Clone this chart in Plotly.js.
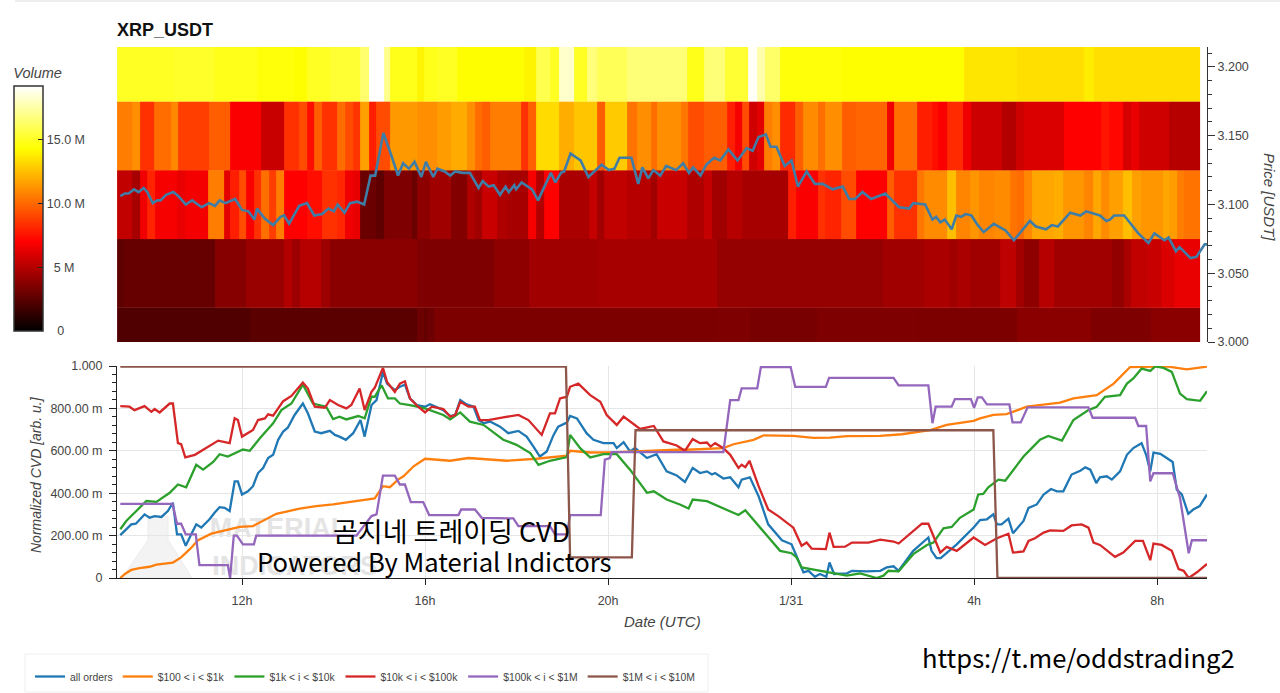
<!DOCTYPE html>
<html><head><meta charset="utf-8">
<script src="https://cdn.plot.ly/plotly-3.0.1.min.js"></script>
<style>html,body{margin:0;padding:0;background:#fff}</style></head>
<body><div id="chart" style="width:1280px;height:693px"></div>
<script>
// Time is in hours since 1/30 00:00 UTC. Volumes are in millions.
const tickHours = [12,16,20,24,28,32];
const tickHourLabels = ['12h','16h','20h','1/31','4h','8h'];
const cvdTicks = [0,0.2,0.4,0.6,0.8,1];
const cvdTickLabels = ['0','200.00 m','400.00 m','600.00 m','800.00 m','1.000'];
const volTicks = [0,5,10,15];
const volTickLabels = ['\u00a0\u00a0\u00a00','\u00a0\u00a05 M','10.0 M','15.0 M'];

const edges3200 = [9.27,10.51,11.38,12.33,13.13,13.42,13.93,14.59,14.77,15.10,15.24,15.83,15.98,16.27,16.70,18.16,18.42,18.74,18.93,19.25,19.55,19.76,20.42,21.73,22.10,22.56,23.07,23.25,23.44,23.76,25.11,27.78,28.95,30.40,30.62,32.93];
const vols3200 = [15,15.1,14.8,14.5,14.3,15,15.3,16.4,19.2,17,14.8,14,14.8,15,14.3,14,15.8,15,18.2,15,16.7,16,16.6,14.8,16.6,15.3,19,17.6,16.3,14.5,14.3,13.6,13.4,13.8,13.4];

const edges3150 = [9.27,9.60,9.77,10.07,10.44,10.60,11.27,11.75,12.42,12.91,13.24,13.42,13.57,13.75,14.08,14.26,14.43,14.59,14.77,14.92,15.24,15.83,16.27,16.56,16.92,17.10,17.25,17.43,18.09,18.26,18.43,18.93,19.25,19.76,19.93,20.42,20.64,20.93,21.08,21.59,21.75,22.10,22.60,22.78,22.93,23.09,23.25,23.42,23.58,23.76,24.09,24.26,24.60,24.75,25.11,25.43,26.10,26.26,26.75,27.08,27.22,27.41,27.77,27.93,28.62,28.92,29.09,29.97,30.77,30.95,31.26,31.42,31.61,32.26,32.93];
const vols3150 = [10.6,11.1,8.4,10.1,10.9,8.8,9.7,6.9,5.5,8.4,9.2,7.4,9.7,8.4,10.1,9.2,8.5,11.6,7.9,9.2,11.4,11.1,11.5,11.9,11.1,10.1,9.7,10.6,8.4,9.8,13.3,12,12.7,9.7,12.8,10.3,11.1,10.2,11.1,10.4,9.2,9.7,7.9,6.8,9.2,5.7,6.2,10.6,11.1,8.2,9.7,11,10.2,11.1,9.7,9.9,6.6,10.2,7.9,7.4,6.9,8.2,6.6,5.6,4.9,5.7,6,7,7.6,7.2,5.9,6.4,5.7,5];

const edges3100 = [9.27,9.60,9.77,9.93,10.09,10.58,10.76,11.25,11.60,11.75,11.93,12.10,12.26,12.42,12.59,12.75,12.91,13.42,13.75,14.08,14.26,14.43,14.59,14.92,15.10,15.72,15.83,16.12,16.56,16.92,17.10,17.25,17.58,17.80,18.26,18.43,18.60,18.93,19.58,19.76,19.91,20.42,20.93,21.08,21.73,22.10,22.28,22.60,22.93,23.93,24.10,24.60,24.75,25.09,25.43,26.10,26.26,26.75,26.91,27.42,27.60,27.92,28.10,28.43,28.79,28.95,29.09,29.27,29.75,29.94,30.40,30.60,30.78,30.95,31.26,31.45,31.64,32.12,32.26,32.44,32.59,32.93];
const vols3100 = [5.3,4.6,6.6,8,6.8,6.4,6.7,10.6,6.2,7.9,9.2,6.9,8.4,10.2,8.8,10.6,7,7.4,8.4,8.1,6.6,6.4,2.9,2.6,3.5,2.9,3.9,4.4,3.6,4.8,4.4,5.5,4.8,4.6,6.8,4.9,7,4.7,5.4,4.4,5.3,5,4.4,5.5,4.8,5.4,4.4,5,4.6,7.9,6.9,8.4,8,9.2,7,9.7,8.4,10.4,11,12.5,10.8,11.3,10.8,11,10.3,10.1,10.9,11.8,12,11.3,10.8,11.8,11,11.6,12.5,11.6,11.3,11.8,11.5,10.6,10.3];

const edges3050 = [9.27,9.42,11.42,12.08,12.91,13.10,13.28,13.73,13.93,15.83,17.51,18.27,19.80,22.39,26.02,26.90,27.48,27.63,27.92,28.57,28.92,29.09,29.42,29.75,31.02,31.28,31.42,31.79,32.08,32.37,32.93];
const vols3050 = [2.6,2.8,3.7,4.2,4.9,4.3,5,4.3,3.8,3.5,3.9,4.4,4.6,4.1,4.4,4.7,4.4,4.7,4.4,5.2,4.4,3.9,5,4.4,4,4.7,5.3,5.5,6,6.4];

const edges3000 = [9.27,12.18,15.83,15.98,16.05,16.20,22.39,23.11,24.57,26.75,28.94,30.55,31.86,32.93];
const vols3000 = [2.2,2.5,3,2.7,3,3.4,3.5,3.3,3.5,3.4,3.8,3.5,3.8];

const priceT = [9.34,9.44,9.52,9.64,9.74,9.85,9.93,10.05,10.15,10.22,10.34,10.50,10.61,10.77,10.91,11.12,11.28,11.41,11.51,11.64,11.85,12.00,12.14,12.27,12.33,12.49,12.68,12.84,12.92,13.03,13.25,13.42,13.58,13.75,13.89,14.01,14.09,14.24,14.36,14.52,14.67,14.81,14.91,15.09,15.26,15.41,15.52,15.65,15.77,15.92,16.02,16.18,16.27,16.43,16.55,16.66,16.82,16.98,17.17,17.26,17.39,17.50,17.64,17.76,17.83,17.95,17.99,18.11,18.34,18.47,18.75,18.85,18.97,19.04,19.18,19.40,19.57,19.86,20.02,20.14,20.25,20.51,20.66,20.75,20.88,20.99,21.14,21.27,21.49,21.64,21.77,21.86,22.02,22.15,22.32,22.45,22.63,22.83,23.03,23.16,23.29,23.45,23.55,23.68,23.86,24.01,24.15,24.34,24.52,24.69,24.91,25.13,25.27,25.40,25.56,25.75,26.06,26.36,26.58,26.67,26.93,27.09,27.17,27.26,27.36,27.51,27.61,27.72,27.81,27.94,28.08,28.21,28.43,28.69,28.87,29.22,29.35,29.57,29.70,29.83,30.10,30.32,30.45,30.75,30.89,30.97,31.06,31.28,31.59,31.81,31.94,32.16,32.25,32.41,32.49,32.73,32.86,33.04,33.09];
const priceV = [3.106,3.108,3.108,3.111,3.109,3.112,3.109,3.101,3.103,3.103,3.107,3.109,3.106,3.100,3.103,3.098,3.101,3.099,3.103,3.101,3.104,3.096,3.095,3.089,3.097,3.090,3.085,3.091,3.092,3.086,3.099,3.101,3.092,3.093,3.097,3.095,3.100,3.094,3.101,3.102,3.100,3.121,3.121,3.152,3.136,3.121,3.130,3.126,3.131,3.120,3.131,3.120,3.126,3.124,3.121,3.124,3.123,3.123,3.112,3.117,3.113,3.114,3.107,3.113,3.109,3.114,3.111,3.116,3.111,3.103,3.123,3.116,3.123,3.124,3.137,3.132,3.120,3.129,3.125,3.126,3.134,3.134,3.115,3.127,3.119,3.125,3.121,3.128,3.125,3.130,3.123,3.127,3.121,3.129,3.134,3.132,3.140,3.132,3.141,3.139,3.149,3.151,3.142,3.142,3.128,3.132,3.113,3.124,3.115,3.115,3.111,3.113,3.104,3.104,3.109,3.104,3.108,3.098,3.097,3.101,3.100,3.089,3.091,3.087,3.089,3.082,3.092,3.091,3.093,3.092,3.085,3.080,3.086,3.081,3.074,3.088,3.084,3.082,3.085,3.084,3.094,3.092,3.095,3.092,3.088,3.089,3.092,3.092,3.079,3.072,3.079,3.074,3.076,3.066,3.069,3.061,3.062,3.071,3.071];

const allT = [9.34,9.44,9.58,9.68,9.76,9.87,9.98,10.09,10.24,10.38,10.49,10.58,10.67,10.77,10.89,11.0,11.11,11.29,11.40,11.51,11.62,11.73,11.84,11.91,12.0,12.13,12.24,12.35,12.46,12.57,12.68,12.79,12.9,13.0,13.15,13.33,13.44,13.59,13.73,13.92,14.03,14.13,14.27,14.43,14.59,14.68,14.83,14.94,15.08,15.17,15.34,15.45,15.56,15.67,15.82,16,16.11,16.26,16.40,16.55,16.66,16.77,16.91,17.06,17.17,17.28,17.42,17.64,17.82,18.04,18.22,18.37,18.51,18.66,18.81,18.91,19.10,19.17,19.32,19.53,19.68,19.90,20.12,20.19,20.34,20.48,20.59,20.85,21.06,21.28,21.50,21.68,21.85,22.01,22.16,22.27,22.34,22.52,22.67,22.85,22.92,23.10,23.29,23.50,23.69,23.80,24.01,24.12,24.27,24.38,24.52,24.63,24.77,24.84,24.94,25.22,25.33,25.65,25.95,26.09,26.24,26.35,26.67,27.0,27.07,27.18,27.27,27.62,27.84,27.99,28.13,28.28,28.42,28.50,28.60,28.75,28.85,29.08,29.19,29.37,29.52,29.68,29.81,29.95,30.13,30.32,30.43,30.54,30.67,30.75,30.90,31.01,31.19,31.34,31.48,31.66,31.76,31.85,31.92,32.07,32.21,32.34,32.43,32.54,32.68,32.79,32.93,33.09];
const allV = [.202,.222,.253,.256,.273,.300,.284,.292,.288,.316,.355,.206,.206,.152,.206,.253,.238,.277,.308,.334,.331,.316,.456,.456,.394,.409,.433,.495,.519,.566,.581,.652,.691,.709,.769,.823,.777,.691,.683,.694,.675,.667,.652,.683,.745,.667,.816,.839,.972,.917,.886,.902,.912,.847,.816,.808,.820,.805,.792,.764,.769,.839,.819,.808,.745,.730,.738,.714,.683,.694,.667,.620,.573,.597,.675,.714,.733,.764,.753,.683,.652,.636,.636,.613,.641,.597,.613,.566,.584,.503,.484,.453,.519,.495,.503,.488,.495,.469,.475,.428,.464,.475,.386,.253,.206,.178,.159,.105,.027,.034,.006,.019,.006,.073,.019,.022,.034,.031,.034,.05,.055,.034,.128,.191,.128,.094,.094,.159,.206,.238,.273,.277,.3,.253,.253,.280,.211,.269,.331,.347,.394,.420,.409,.409,.488,.506,.522,.511,.448,.475,.480,.464,.503,.581,.613,.636,.581,.503,.592,.586,.566,.547,.417,.394,.303,.323,.339,.394];

const t100 = [9.34,9.44,9.58,9.76,9.98,10.13,10.49,10.67,10.86,11.04,11.33,11.58,11.95,12.24,12.53,12.75,13.26,13.62,13.99,14.43,14.90,15.08,15.23,15.41,15.53,15.75,16,16.55,16.95,17.79,18.44,19.10,19.17,19.61,20.19,21.5,21.72,22.52,22.74,23.18,23.40,24.05,24.49,24.85,25.22,25.95,26.42,27.04,27.40,27.99,28.13,28.42,28.71,29.15,29.88,30.17,30.68,31.05,31.41,32.21,32.65,33.09];
const v100 = [0,.019,.038,.047,.053,.063,.073,.097,.136,.178,.209,.222,.241,.245,.277,.303,.327,.339,.347,.359,.375,.433,.428,.464,.480,.527,.5625,.553,.566,.553,.5625,.577,.6,.592,.594,.605,.605,.6125,.631,.652,.673,.67,.661,.6625,.669,.67,.678,.698,.722,.741,.753,.769,.773,.808,.827,.847,.8625,.917,.995,.998,.984,.997];

const t1k = [9.34,9.47,9.69,9.91,10.13,10.42,10.60,10.78,11.0,11.15,11.37,11.51,11.69,12.02,12.17,12.39,12.68,12.86,13.08,13.33,13.55,13.84,13.99,14.13,14.28,14.54,14.68,14.83,14.90,15.05,15.19,15.34,15.45,15.67,16,16.40,16.55,16.77,16.98,17.28,17.71,18.0,18.30,18.48,18.73,19.10,19.17,19.39,19.61,19.90,20.19,20.48,20.85,21.0,21.28,21.57,21.76,21.85,22.16,22.52,22.85,23.0,23.32,23.76,24.01,24.12,24.23,24.63,24.85,25.22,25.51,25.87,26.02,26.13,26.35,26.67,26.97,27.11,27.33,27.51,27.69,27.99,28.09,28.20,28.31,28.42,28.53,28.68,28.86,29.08,29.26,29.44,29.62,29.92,30.17,30.50,30.68,30.86,31.19,31.34,31.48,31.66,31.85,31.96,32.14,32.32,32.50,32.65,32.94,33.09];
const v1k = [.230,.269,.316,.363,.359,.402,.441,.428,.534,.511,.547,.584,.573,.606,.6,.659,.73,.792,.823,.9125,.823,.808,.75,.761,.748,.764,.753,.855,.855,.909,.847,.847,.823,.816,.8,.769,.748,.781,.7375,.722,.652,.628,.589,.534,.553,.570,.675,.6125,.569,.584,.584,.511,.402,.409,.370,.347,.328,.370,.3625,.328,.297,.319,.2375,.128,.117,.097,.05,.034,.027,.011,.022,0,.011,.034,.031,.1125,.156,.167,.234,.241,.284,.323,.394,.397,.428,.444,.464,.459,.511,.573,.6125,.652,.670,.648,.745,.792,.808,.855,.8625,.917,.941,.9875,.977,.998,.991,.972,.870,.844,.836,.881];

const t10k = [9.34,9.54,9.65,9.87,10.02,10.09,10.20,10.42,10.49,10.60,10.67,10.76,10.97,11.18,11.48,11.73,11.84,11.91,12.0,12.24,12.35,12.50,12.57,12.68,12.90,13.08,13.33,13.44,13.59,13.81,13.92,14.10,14.28,14.39,14.57,14.68,14.83,14.90,15.08,15.17,15.34,15.45,15.56,15.67,15.85,16,16.15,16.40,16.55,16.66,16.77,16.95,17.09,17.20,17.38,17.71,18.04,18.26,18.55,18.73,18.84,18.95,19.10,19.17,19.35,19.61,19.83,19.97,20.19,20.34,20.70,21.0,21.21,21.5,21.68,21.85,22.01,22.16,22.24,22.34,22.52,22.67,22.85,22.92,23.0,23.09,23.29,23.50,23.72,24.05,24.23,24.34,24.45,24.76,24.84,24.93,25.18,25.33,25.69,25.95,26.24,26.35,26.67,26.86,27.0,27.26,27.40,27.62,27.99,28.24,28.50,28.75,28.85,29.08,29.19,29.33,29.52,29.66,29.95,30.13,30.35,30.50,30.61,30.75,31.08,31.26,31.52,31.69,31.85,31.92,32.10,32.32,32.47,32.58,32.69,32.87,33.09];
const v10k = [.811,.808,.792,.811,.784,.797,.781,.823,.823,.636,.631,.569,.581,.609,.648,.636,.753,.745,.667,.698,.745,.753,.772,.766,.834,.859,.922,.894,.808,.803,.839,.816,.8,.816,.894,.792,.878,.897,.991,.925,.878,.917,.928,.847,.808,.781,.808,.797,.761,.769,.831,.808,.808,.745,.745,.758,.769,.745,.675,.777,.777,.847,.855,.902,.917,.8625,.831,.769,.722,.761,.703,.717,.644,.625,.6,.655,.636,.639,.620,.636,.6125,.581,.519,.534,.523,.553,.433,.323,.292,.2375,.152,.167,.139,.136,.214,.147,.148,.167,.167,.181,.172,.1625,.222,.256,.256,.120,.147,.128,.191,.156,.1875,.209,.120,.125,.175,.1875,.214,.225,.222,.248,.253,.2375,.167,.156,.1,.120,.175,.175,.084,.1625,.156,.128,.042,.034,0,.027,.066];

const t100k = [9.34,10.48,10.58,10.67,10.77,10.99,11.07,11.69,11.74,11.82,11.89,12.02,12.26,12.31,14.50,14.64,14.83,14.94,15.08,15.34,15.45,15.56,15.69,15.96,16.09,16.73,16.79,17.09,17.24,17.93,18.04,18.73,18.84,19.10,19.17,19.84,19.93,20.04,20.08,22.52,22.67,22.85,22.92,23.26,23.34,23.99,24.09,24.76,24.83,26.24,26.35,27.0,27.09,27.16,27.51,27.58,27.93,28.0,28.08,28.17,28.28,28.77,28.84,29.02,29.17,30.50,30.59,31.52,31.59,31.76,31.85,31.92,32.34,32.50,32.61,32.69,32.76,33.09];
const v100k = [.35,.35,.256,.256,.206,.206,.061,.061,0,.2,.2,.159,.159,.2,.2,.2375,.292,.3,.483,.483,.441,.441,.358,.358,.297,.297,.323,.323,.284,.281,.245,.245,.206,.206,.297,.297,.558,.566,.594,.594,.839,.839,.894,.894,.995,.995,.902,.902,.944,.944,.909,.909,.730,.808,.808,.844,.844,.803,.852,.852,.819,.819,.734,.734,.805,.805,.756,.756,.717,.717,.456,.494,.494,.378,.2375,.117,.178,.178];

const t1M = [9.34,19.08,19.17,20.52,20.60,28.42,28.51,33.09];
const v1M = [.997,.997,.097,.097,.697,.697,0,0];

const bands = [
  [edges3000,vols3000,[2.975,3.025]],
  [edges3050,vols3050,[3.025,3.075]],
  [edges3100,vols3100,[3.075,3.125]],
  [edges3150,vols3150,[3.125,3.175]],
  [edges3200,vols3200,[3.175,3.225]]
];
const W=1280,H=693, fx=x=>x/W, fy=y=>1-y/H;
const FONT='"Liberation Sans", Arial, sans-serif', CJK='"Noto Sans CJK KR", sans-serif';

const heat = bands.map(b=>({type:'heatmap',x:b[0],y:b[2],z:[b[1]],coloraxis:'coloraxis',xaxis:'x',yaxis:'y',showlegend:false,hoverongaps:false}));
const priceTrace = {type:'scatter',mode:'lines',x:priceT,y:priceV,xaxis:'x',yaxis:'y',showlegend:false,cliponaxis:false,line:{color:'#3f7da6',width:2.6}};
const seriesDefs = [['all orders',allT,allV,'#1f77b4'],['$100 < i < $1k',t100,v100,'#ff7f0e'],['$1k < i < $10k',t1k,v1k,'#2ca02c'],['$10k < i < $100k',t10k,v10k,'#d62728'],['$100k < i < $1M',t100k,v100k,'#9467bd'],['$1M < i < $10M',t1M,v1M,'#8c564b']];
const lines = seriesDefs.map(s=>({type:'scatter',mode:'lines',name:s[0],x:s[1],y:s[2],xaxis:'x2',yaxis:'y2',cliponaxis:false,line:{color:s[3],width:2.3}}));

const range=[9.268,33.09];
const flask = `M ${fx(148)} ${fy(516)} L ${fx(168)} ${fy(516)} L ${fx(168)} ${fy(540)} L ${fx(192)} ${fy(578)} L ${fx(122)} ${fy(578)} L ${fx(148)} ${fy(540)} Z`;
const layout = {
  width:W,height:H,paper_bgcolor:'#fff',plot_bgcolor:'#fff',
  margin:{l:0,r:0,t:0,b:0,autoexpand:false},
  font:{family:FONT,size:12,color:'#444'},
  title:{text:'XRP_USDT',x:fx(117),xref:'container',xanchor:'left',y:fy(30),yref:'container',yanchor:'middle',font:{family:FONT,size:18,weight:700,color:'#111'}},
  xaxis:{domain:[fx(117),fx(1207)],range:range,anchor:'y',visible:false},
  yaxis:{domain:[fy(342),fy(47)],range:[3.0,3.2145],anchor:'x',side:'right',showgrid:false,zeroline:false,showline:true,linecolor:'#333',linewidth:1,ticks:'outside',ticklen:7,tickcolor:'#333',tickvals:[3,3.05,3.1,3.15,3.2],tickformat:'.3f',tickfont:{size:12.5,color:'#444'},
    minor:{dtick:0.01,ticks:'outside',ticklen:4,tickcolor:'#333',showgrid:false}},
  xaxis2:{domain:[fx(117),fx(1207)],range:range,anchor:'y2',showgrid:true,gridcolor:'#e6e6e6',gridwidth:1,zeroline:false,showline:true,linecolor:'#222',linewidth:1,ticks:'outside',ticklen:6,tickcolor:'#222',tickvals:tickHours,ticktext:tickHourLabels,ticklabelstandoff:5,tickfont:{size:12.5,color:'#444'}},
  yaxis2:{domain:[fy(578),fy(366)],range:[0,1],anchor:'x2',showgrid:true,gridcolor:'#e6e6e6',gridwidth:1,zeroline:false,showline:true,linecolor:'#222',linewidth:1,ticks:'outside',ticklen:7,tickcolor:'#222',tickvals:cvdTicks,ticktext:cvdTickLabels,ticklabelstandoff:4,tickfont:{size:12.5,color:'#444'},
    minor:{dtick:0.04,ticks:'outside',ticklen:4,tickcolor:'#222',showgrid:false}},
  coloraxis:{colorscale:[[0,'#000'],[0.365,'#f00'],[0.746,'#ff0'],[1,'#fff']],cmin:0,cmax:19.2,
    colorbar:{xref:'container',yref:'container',x:fx(14),xanchor:'left',y:fy(331),yanchor:'bottom',thickness:29,thicknessmode:'pixels',len:266,lenmode:'pixels',xpad:0,ypad:0,outlinecolor:'#333',outlinewidth:1.5,borderwidth:0,ticks:'inside',ticklen:5,tickcolor:'#222',tickvals:volTicks,ticktext:volTickLabels,tickfont:{size:12.5,color:'#444'},title:{text:'Volume',side:'top',font:{size:14.5,style:'italic',color:'#444'}}}},
  legend:{orientation:'h',x:fx(30),xanchor:'left',y:fy(662),yanchor:'top',borderwidth:0,font:{size:10.4,color:'#444'},itemwidth:30,traceorder:'normal',bgcolor:'rgba(0,0,0,0)'},
  shapes:[
    {type:'rect',xref:'paper',yref:'paper',x0:fx(15),x1:1,y0:fy(2),y1:1,fillcolor:'#eeeeee',line:{width:0},layer:'below'},
    {type:'rect',xref:'paper',yref:'paper',x0:fx(25),x1:fx(708),y0:fy(692),y1:fy(654),fillcolor:'#fff',line:{color:'#efefef',width:1},layer:'below'},
    {type:'path',xref:'paper',yref:'paper',path:flask,fillcolor:'#f3f3f3',line:{color:'#ececec',width:1},layer:'below'},
    {type:'rect',xref:'paper',yref:'paper',x0:fx(212),x1:fx(345),y0:fy(536),y1:fy(514),line:{width:0},fillcolor:'rgba(0,0,0,0)',layer:'below',label:{text:'MATERIAL',textposition:'middle center',font:{family:FONT,size:27,weight:700,color:'#e4e4e4'}}},
    {type:'rect',xref:'paper',yref:'paper',x0:fx(212),x1:fx(378),y0:fy(574),y1:fy(552),line:{width:0},fillcolor:'rgba(0,0,0,0)',layer:'below',label:{text:'INDICATORS',textposition:'middle center',font:{family:FONT,size:27,weight:700,color:'#e4e4e4'}}}
  ],
  annotations:[
    {xref:'paper',yref:'paper',x:fx(1269),y:fy(197),text:'Price [USDT]',textangle:90,showarrow:false,xanchor:'center',yanchor:'middle',font:{family:FONT,size:15,style:'italic',color:'#444'}},
    {xref:'paper',yref:'paper',x:fx(36),y:fy(475),text:'Normalized CVD [arb. u.]',textangle:-90,showarrow:false,xanchor:'center',yanchor:'middle',font:{family:FONT,size:14,style:'italic',color:'#444'}},
    {xref:'paper',yref:'paper',x:fx(662),y:fy(621),text:'Date (UTC)',showarrow:false,xanchor:'center',yanchor:'middle',font:{family:FONT,size:15,style:'italic',color:'#444'}},
    {xref:'paper',yref:'paper',x:fx(451),y:fy(530),text:'곰지네 트레이딩 CVD',showarrow:false,xanchor:'center',yanchor:'middle',font:{family:CJK,size:27,color:'#000'}},
    {xref:'paper',yref:'paper',x:fx(434),y:fy(560),text:'Powered By Material Indictors',showarrow:false,xanchor:'center',yanchor:'middle',font:{family:CJK,size:25.6,color:'#000'}},
    {xref:'paper',yref:'paper',x:fx(1078),y:fy(656),text:'https://t.me/oddstrading2',showarrow:false,xanchor:'center',yanchor:'middle',font:{family:CJK,size:25.6,color:'#000'}}
  ]
};
Plotly.newPlot('chart',[...heat,priceTrace,...lines],layout,{displayModeBar:false,responsive:false});
</script></body></html>
